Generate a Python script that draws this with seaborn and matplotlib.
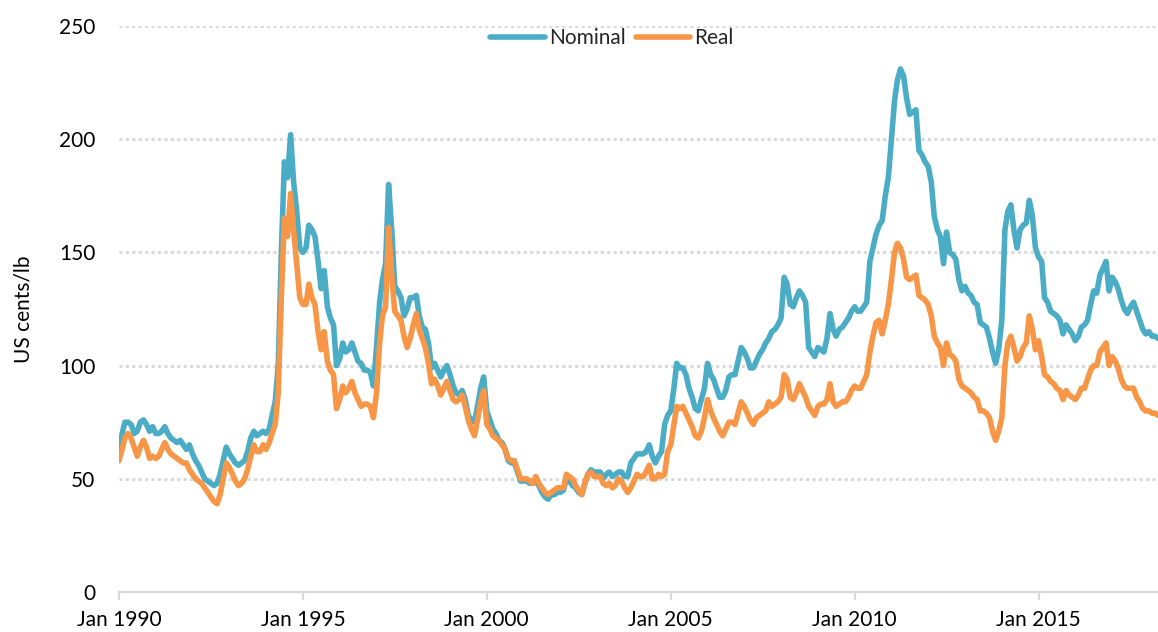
import numpy as np
import pandas as pd
import matplotlib
matplotlib.use("Agg")
import matplotlib.pyplot as plt
import seaborn as sns

# ---- data (monthly, Jan 1990 - Apr 2018), US cents/lb ----
start_month = "1990-01-01"
nominal = [
    63, 70, 75, 75, 74, 70, 71, 75, 76, 74, 71, 73,          # 1990
    70, 70, 71, 73, 70, 68, 67, 66, 67, 65, 63, 65,          # 1991
    61, 58, 56, 53, 50, 49, 48, 47, 48, 52, 58, 64,          # 1992
    61, 59, 57, 56, 57, 58, 62, 68, 71, 69, 70, 71,          # 1993
    70, 72, 78, 84, 100, 150, 190, 183, 202, 181, 168, 152,  # 1994
    150, 152, 162, 160, 157, 146, 134, 142, 126, 121, 118, 100,  # 1995
    103, 110, 106, 107, 110, 106, 102, 101, 98, 98, 97, 91,  # 1996
    108, 128, 138, 145, 180, 160, 135, 133, 130, 122, 125, 130,  # 1997
    130, 131, 122, 117, 116, 110, 99, 101, 98, 95, 98, 100,  # 1998
    96, 91, 88, 87, 89, 85, 78, 76, 75, 82, 90, 95,          # 1999
    80, 76, 72, 70, 67, 66, 63, 58, 57, 57, 53, 49,          # 2000
    49, 49, 48, 48, 49, 47, 44, 42, 41, 43, 43, 44,          # 2001
    44, 45, 50, 49, 47, 46, 44, 43, 48, 52, 54, 53,          # 2002
    53, 53, 50, 52, 53, 51, 52, 53, 53, 51, 51, 57,          # 2003
    59, 61, 61, 61, 62, 65, 60, 57, 60, 62, 74, 78,          # 2004
    80, 90, 101, 99, 99, 96, 90, 86, 81, 80, 85, 90,         # 2005
    101, 96, 94, 90, 86, 86, 89, 95, 96, 96, 102, 108,       # 2006
    106, 103, 99, 99, 102, 105, 107, 110, 112, 115, 116, 118,  # 2007
    121, 139, 136, 127, 126, 130, 133, 131, 128, 108, 106, 104,  # 2008
    108, 107, 106, 112, 123, 116, 113, 116, 117, 119, 121, 124,  # 2009
    126, 124, 124, 126, 128, 146, 152, 158, 162, 164, 175, 183,  # 2010
    200, 217, 226, 231, 228, 218, 211, 212, 213, 195, 193, 190,  # 2011
    188, 181, 166, 160, 157, 145, 159, 150, 149, 147, 138, 133,  # 2012
    135, 132, 131, 128, 127, 119, 118, 117, 112, 106, 101, 107,  # 2013
    120, 160, 168, 171, 160, 152, 160, 162, 163, 173, 166, 152,  # 2014
    148, 146, 130, 128, 124, 123, 122, 120, 114, 118, 116, 114,  # 2015
    111, 113, 117, 118, 120, 127, 133, 132, 140, 143, 146, 133,  # 2016
    139, 137, 134, 129, 125, 123, 126, 128, 124, 120, 116, 114,  # 2017
    115, 113, 113, 112,                                      # 2018
]
real = [
    58, 63, 68, 70, 68, 64, 60, 64, 67, 64, 59, 60,          # 1990
    59, 60, 63, 66, 63, 61, 60, 59, 58, 57, 57, 54,          # 1991
    52, 50, 49, 48, 46, 44, 42, 40, 39, 43, 50, 57,          # 1992
    55, 52, 49, 47, 48, 50, 54, 60, 65, 62, 62, 65,          # 1993
    63, 66, 70, 74, 88, 130, 165, 157, 176, 160, 145, 130,   # 1994
    127, 127, 136, 130, 127, 115, 107, 115, 102, 98, 96, 81,  # 1995
    85, 91, 88, 90, 93, 88, 85, 82, 83, 83, 82, 77,          # 1996
    88, 110, 122, 126, 161, 140, 124, 122, 120, 113, 108, 112,  # 1997
    118, 123, 116, 112, 108, 101, 92, 94, 91, 87, 90, 93,    # 1998
    89, 85, 84, 85, 87, 82, 76, 72, 69, 76, 84, 89,          # 1999
    74, 72, 69, 68, 67, 65, 63, 59, 58, 58, 54, 50,          # 2000
    50, 50, 49, 48, 51, 48, 46, 44, 43, 44, 45, 46,          # 2001
    46, 46, 52, 51, 50, 47, 45, 43, 48, 52, 53, 51,          # 2002
    51, 51, 48, 47, 48, 46, 47, 50, 49, 46, 44, 46,          # 2003
    49, 52, 51, 51, 53, 56, 50, 50, 52, 51, 52, 62,          # 2004
    65, 74, 82, 81, 82, 79, 76, 73, 69, 68, 71, 77,          # 2005
    85, 80, 77, 74, 71, 69, 72, 75, 75, 74, 79, 84,          # 2006
    82, 79, 76, 74, 77, 78, 79, 80, 84, 82, 83, 84,          # 2007
    86, 96, 94, 86, 85, 88, 92, 89, 86, 82, 80, 78,          # 2008
    82, 83, 83, 85, 92, 84, 82, 83, 84, 84, 86, 89,          # 2009
    91, 90, 90, 93, 96, 106, 113, 119, 120, 114, 120, 127,   # 2010
    138, 150, 154, 152, 147, 139, 138, 139, 140, 131, 130, 129,  # 2011
    127, 122, 113, 110, 108, 100, 110, 105, 104, 102, 94, 91,  # 2012
    90, 89, 88, 86, 85, 80, 80, 79, 77, 71, 67, 71,          # 2013
    77, 100, 110, 113, 108, 102, 104, 108, 110, 122, 116, 107,  # 2014
    111, 104, 96, 95, 93, 92, 90, 89, 85, 89, 87, 86,        # 2015
    85, 87, 90, 90, 94, 98, 100, 100, 106, 108, 110, 100,    # 2016
    104, 102, 99, 94, 91, 90, 90, 90, 86, 84, 81, 80,        # 2017
    80, 79, 79, 78,                                          # 2018
]
series_names = ["Nominal", "Real"]
series_colors = ["#4BACC6", "#F79646"]
x_tick_years = [1990, 1995, 2000, 2005, 2010, 2015]
y_ticks = [0, 50, 100, 150, 200, 250]
y_label = "US cents/lb"

# ---- build long-form table ----
dates = pd.date_range(start_month, periods=len(nominal), freq="MS")
df = pd.DataFrame({
    "date": list(dates) + list(dates),
    "value": nominal + real,
    "series": [series_names[0]] * len(nominal) + [series_names[1]] * len(real),
})

sns.set_theme(style="white")
plt.rcParams["font.family"] = ["Lato", "DejaVu Sans"]

W, H = 1158, 632
fig = plt.figure(figsize=(W / 100, H / 100), dpi=100)
ax_left, ax_right, ax_top, ax_bottom = 119, 1158, 26, 592
ax = fig.add_axes([ax_left / W, 1 - ax_bottom / H,
                   (ax_right - ax_left) / W, (ax_bottom - ax_top) / H])

sns.lineplot(data=df, x="date", y="value", hue="series",
             hue_order=series_names,
             palette=dict(zip(series_names, series_colors)),
             linewidth=4.0, ax=ax, legend=True)

ax.set_xlim(dates[0], dates[-1])
ax.set_ylim(0, 250)
ax.set_yticks(y_ticks)
ax.set_yticklabels([str(v) for v in y_ticks])
ax.set_xticks([pd.Timestamp(f"{y}-01-01") for y in x_tick_years])
ax.set_xticklabels([f"Jan {y}" for y in x_tick_years])

grid_c = "#D9D9D9"
ax.yaxis.grid(True, color=grid_c, linestyle=(0, (1, 1.1)), linewidth=2.2)
ax.xaxis.grid(False)
ax.set_axisbelow(True)
for s in ["left", "right", "top"]:
    ax.spines[s].set_visible(False)
ax.spines["bottom"].set_color(grid_c)
ax.spines["bottom"].set_linewidth(1.6)

ax.tick_params(axis="x", direction="out", length=6, width=1.6, color=grid_c,
               labelsize=15, labelcolor="black", pad=7, bottom=True)
ax.tick_params(axis="y", length=0, labelsize=15, labelcolor="black", pad=17)

ax.set_xlabel("")
ax.set_ylabel(y_label, fontsize=15, color="black", va="center")
ax.yaxis.set_label_coords((24 - ax_left) / (ax_right - ax_left), 0.5)

leg = ax.legend(loc="center", bbox_to_anchor=((612 - ax_left) / (ax_right - ax_left), 0.979),
                ncol=2, frameon=False, fontsize=15, handlelength=2.6,
                handletextpad=0.2, columnspacing=0.5, borderaxespad=0)
for line in leg.get_lines():
    line.set_linewidth(4)
    line.set_solid_capstyle("round")

fig.savefig("out.png", dpi=100)
